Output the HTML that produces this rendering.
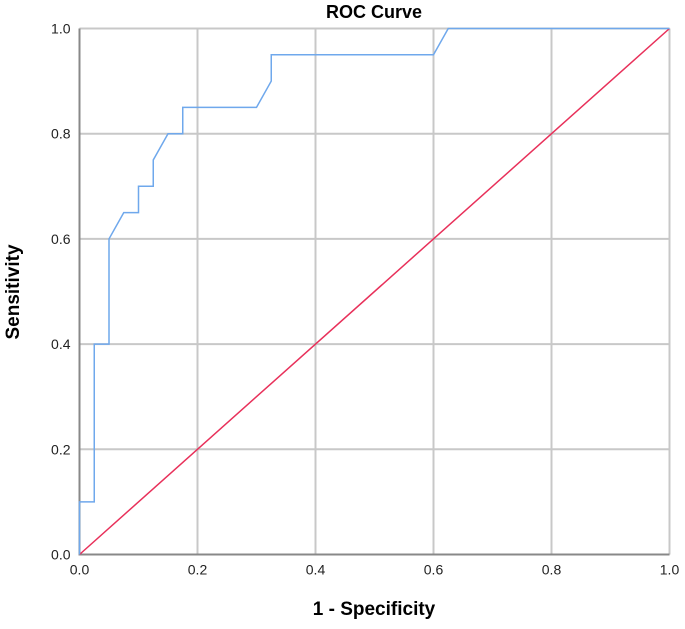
<!DOCTYPE html>
<html><head><meta charset="utf-8"><style>
html,body{margin:0;padding:0;background:#fff;}
svg{display:block;font-family:"Liberation Sans",Arial,sans-serif;}
</style></head><body>
<svg id="chart" width="685" height="629">
<text x="374" y="18" text-anchor="middle" font-size="18" font-weight="bold" fill="#000">ROC Curve</text>
<text transform="translate(19,292) rotate(-90)" text-anchor="middle" font-size="19" font-weight="bold" fill="#000">Sensitivity</text>
<text x="374" y="615" text-anchor="middle" font-size="19" font-weight="bold" fill="#000">1 - Specificity</text>
<g id="grid"></g><g id="ticks"></g><g id="series"></g>
</svg>
<script>
const ticks=[0,0.2,0.4,0.6,0.8,1.0];
const tickLabels=["0.0","0.2","0.4","0.6","0.8","1.0"];
const rocFpr=[0,0,0.025,0.025,0.05,0.05,0.075,0.1,0.1,0.125,0.125,0.15,0.175,0.175,0.3,0.325,0.325,0.6,0.625,1];
const rocTpr=[0,0.1,0.1,0.4,0.4,0.6,0.65,0.65,0.7,0.7,0.75,0.8,0.8,0.85,0.85,0.9,0.95,0.95,1,1];
const refX=[0,1];
const refY=[0,1];
const L=79.5,R=669.5,T=28.5,B=554.5;
const sx=v=>L+v*(R-L), sy=v=>B-v*(B-T);
const NS="http://www.w3.org/2000/svg";
function mk(tag,attrs,parent){const e=document.createElementNS(NS,tag);for(const k in attrs)e.setAttribute(k,attrs[k]);parent.appendChild(e);return e;}
const grid=document.getElementById('grid'),tk=document.getElementById('ticks'),se=document.getElementById('series');
ticks.forEach((t,i)=>{
  if(i>0){
    const v=mk('line',{x1:sx(t),x2:sx(t),y1:T,y2:B,stroke:'#c8c8c8','stroke-width':2},grid);
    
    
    const h=mk('line',{x1:L,x2:R,y1:sy(t),y2:sy(t),stroke:'#c8c8c8','stroke-width':2},grid);
    
    
  }
  const xl=mk('text',{x:sx(t),y:B+20,'text-anchor':'middle','font-size':14,fill:'#222'},tk);
  xl.textContent=tickLabels[i];
  
  
  const yl=mk('text',{x:L-9,y:sy(t)+5,'text-anchor':'end','font-size':14,fill:'#222'},tk);
  yl.textContent=tickLabels[i];
  
  
});
const ax=mk('path',{d:`M${L},${T}V${B}H${R}`,fill:'none',stroke:'#888','stroke-width':2},grid);


const ref=mk('polyline',{points:refX.map((x,i)=>sx(x)+','+sy(refY[i])).join(' '),fill:'none',stroke:'#e8305a','stroke-width':1.5},se);


const roc=mk('polyline',{points:rocFpr.map((x,i)=>sx(x)+','+sy(rocTpr[i])).join(' '),fill:'none',stroke:'#6fa8ec','stroke-width':1.5},se);


</script>
</body></html>
